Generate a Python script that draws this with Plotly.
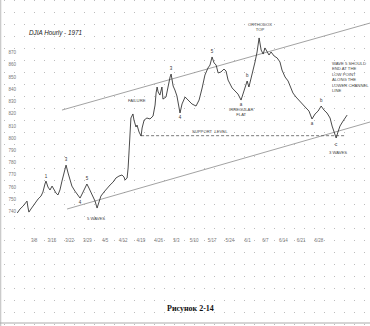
import plotly.graph_objects as go

# ---------------- data ----------------
day = [-6.6, -5.5, -4.3, -3.5, -2.75, -2.4, -2.0, -1.2, -0.4, 0.8, 1.6, 2.75, 3.5, 4.3, 4.7,
       5.5, 6.3, 7.1, 7.9, 8.65, 9.4, 10.2, 11.0, 11.8, 12.6, 13.4, 14.2, 14.9, 16.1, 17.3,
       18.1, 18.9, 20.1, 20.8, 21.6, 22.8, 24.0, 24.8, 25.6, 26.3, 27.5, 28.7, 29.9, 31.1,
       32.2, 33.4, 34.6, 35.4, 35.8, 36.6, 37.0, 37.4, 37.75, 38.1, 38.9, 39.3, 40.1, 40.5,
       41.3, 42.1, 42.5, 43.3, 44.4, 45.6, 46.8, 47.6, 48.0, 48.4, 48.8, 49.5, 50.3, 50.7,
       51.9, 52.7, 53.5, 53.9, 54.7, 55.4, 56.2, 57.4, 58.2, 59.4, 60.6, 62.1, 63.7, 64.9,
       66.1, 67.2, 68.4, 69.2, 70.0, 70.8, 71.6, 72.4, 73.5, 74.7, 75.5, 76.3, 77.9, 79.0,
       80.2, 81.4, 82.2, 83.0, 83.8, 84.5, 85.3, 86.1, 86.9, 87.7, 88.5, 89.3, 90.1, 90.8,
       91.6, 92.4, 93.2, 94.4, 95.6, 96.7, 97.5, 98.7, 99.9, 101.1, 101.8, 103.0, 104.2,
       105.4, 106.6, 108.1, 109.3, 110.5, 111.7, 112.9, 114.0, 115.2, 116.4, 117.2, 118.0,
       118.8, 119.5, 120.3, 121.5, 123.1]
djia = [738.6, 741.9, 744.3, 746.8, 748.4, 743.5, 739.4, 741.9, 744.3, 747.6, 750.1, 752.5,
        755.8, 762.4, 764.8, 759.9, 757.5, 760.7, 757.5, 755.0, 753.4, 757.5, 764.8, 772.2,
        777.9, 771.4, 764.8, 760.7, 756.6, 753.4, 750.9, 754.2, 759.1, 762.4, 759.1, 754.2,
        748.4, 742.7, 748.4, 752.5, 755.8, 759.1, 761.6, 764.0, 767.3, 768.9, 769.8, 768.1,
        765.7, 767.3, 775.5, 790.2, 806.6, 816.5, 819.8, 814.8, 809.1, 810.7, 805.0, 801.7,
        808.3, 814.8, 816.5, 815.7, 818.1, 827.1, 837.0, 841.9, 837.8, 835.3, 841.9, 832.0,
        833.7, 842.7, 850.1, 852.5, 842.7, 839.4, 834.5, 820.6, 828.0, 833.7, 831.2, 828.0,
        826.3, 831.2, 841.1, 851.7, 857.5, 859.9, 866.5, 861.6, 859.9, 853.4, 854.2, 856.6,
        855.0, 847.6, 841.1, 838.6, 836.1, 831.2, 837.0, 842.7, 846.8, 841.9, 848.4, 855.8,
        862.4, 870.6, 882.1, 872.2, 868.9, 873.9, 871.4, 868.1, 870.6, 867.3, 865.7, 862.4,
        855.8, 850.1, 846.8, 841.1, 837.0, 833.7, 831.2, 828.8, 825.5, 822.2, 815.7, 819.8,
        822.2, 826.3, 823.0, 820.6, 816.5, 809.9, 804.2, 800.1, 805.0, 809.9, 814.0, 818.9]

upper_x = [11.0, 132.1]
upper_y = [823.0, 894.3]
lower_x = [13.0, 132.1]
lower_y = [741.9, 813.2]
level_x = [42.1, 122.3]
level_y = [802.0, 802.0]

tick_days = [0, 7, 14, 21, 28, 35, 42, 49, 56, 63, 70, 77, 84, 91, 98, 105, 112]
tick_dates = ["3/8", "3/15", "3/22", "3/29", "4/5", "4/12", "4/19", "4/26", "5/3", "5/10",
              "5/17", "5/24", "6/1", "6/7", "6/14", "6/21", "6/28"]
y_ticks = [870, 860, 850, 840, 830, 820, 810, 800, 790, 780, 770, 760, 750, 740]

wave_lbl = ["1", "3", "4", "5", "3", "4", "5", "a", "b", "a", "b", "c"]
wave_x = [4.7, 12.6, 18.1, 20.8, 53.9, 57.4, 70.0, 81.4, 83.8, 109.3, 112.9, 118.8]
wave_y = [768.1, 782.0, 746.8, 766.5, 856.6, 816.5, 870.6, 827.1, 850.9, 811.6, 830.4, 794.3]

W, H = 370, 326
fig = go.Figure()

# background dot grid subplot (x / y)
fig.add_trace(go.Scatter(x=[None], y=[None], xaxis="x", yaxis="y", showlegend=False))

# chart subplot (x2 / y2)
fig.add_trace(go.Scatter(x=upper_x, y=upper_y, mode="lines", xaxis="x2", yaxis="y2",
                         line=dict(color="#8a8a8a", width=0.8), showlegend=False))
fig.add_trace(go.Scatter(x=lower_x, y=lower_y, mode="lines", xaxis="x2", yaxis="y2",
                         line=dict(color="#8a8a8a", width=0.8), showlegend=False))
fig.add_trace(go.Scatter(x=level_x, y=level_y, mode="lines", xaxis="x2", yaxis="y2",
                         line=dict(color="#555", width=0.8, dash="3px,2px"), showlegend=False))
fig.add_trace(go.Scatter(x=day, y=djia, mode="lines", xaxis="x2", yaxis="y2",
                         line=dict(color="#2a2a2a", width=0.85), showlegend=False))
fig.add_trace(go.Scatter(x=wave_x, y=wave_y, mode="text", text=wave_lbl, xaxis="x2", yaxis="y2",
                         textfont=dict(family="Liberation Sans", size=4.5, color="#333"),
                         showlegend=False))

small = dict(family="Liberation Sans", size=4.2, color="#444")
ann = [
    dict(x=40.5, y=831.2, text="FAILURE", xref="x2", yref="y2", showarrow=False, font=small),
    dict(x=88.9, y=891.1, text="ORTHODOX<br>TOP", xref="x2", yref="y2", showarrow=False,
         font=small),
    dict(x=81.4, y=821.4, text="IRREGULAR<br>FLAT", xref="x2", yref="y2", showarrow=False,
         font=small),
    dict(x=69.2, y=805.8, text="SUPPORT  LEVEL", xref="x2", yref="y2", showarrow=False,
         font=small),
    dict(x=116.2, y=850.1, text="WAVE 5 SHOULD<br>END AT THE<br>LOW POINT<br>ALONG THE<br>"
         "LOWER CHANNEL<br>LINE", xref="x2", yref="y2", showarrow=False, xanchor="left",
         align="left", font=dict(family="Liberation Sans", size=4.2, color="#444")),
    dict(x=24.4, y=734.5, text="5 WAVES", xref="x2", yref="y2", showarrow=False, font=small),
    dict(x=119.5, y=788.6, text="3 WAVES", xref="x2", yref="y2", showarrow=False, font=small),
    dict(x=27 / W, y=1 - 27 / H, text="<i>DJIA Hourly - 1971</i>", xref="paper",
         yref="paper", showarrow=False, xanchor="left",
         font=dict(family="Liberation Sans", size=6.3, color="#222")),
    dict(x=190 / W, y=1 - 315 / H, text="<b>Рисунок 2-14</b>", xref="paper", yref="paper",
         showarrow=False, font=dict(family="Liberation Serif", size=8, color="#111")),
]

x0 = 17 / W
tickf = dict(family="Liberation Sans", size=4.5, color="#777")
fig.update_layout(
    width=W, height=H, margin=dict(l=0, r=0, t=0, b=0),
    paper_bgcolor="white", plot_bgcolor="rgba(0,0,0,0)",
    xaxis=dict(domain=[0, 1], range=[0, W], dtick=10, tick0=4, showgrid=True,
               gridcolor="#bcbcbc", gridwidth=1, griddash="1px,11px",
               showticklabels=False, zeroline=False, showline=False, anchor="y"),
    yaxis=dict(domain=[0, 1], range=[H, 0], showgrid=False, showticklabels=False,
               zeroline=False, showline=False, anchor="x"),
    xaxis2=dict(domain=[x0, 1], range=[-6.685, 132.1], anchor="y2", tickmode="array",
                tickvals=tick_days, ticktext=tick_dates, showgrid=False, zeroline=False,
                showline=False, ticks="", tickfont=tickf),
    yaxis2=dict(domain=[1 - 236 / H, 1 - 10 / H], range=[719.8, 905.0], anchor="x2",
                tickmode="array", tickvals=y_ticks, ticktext=[str(v) for v in y_ticks],
                showgrid=False, zeroline=False, showline=False, ticks="", tickfont=tickf),
    annotations=ann,
    shapes=[
        dict(type="line", xref="paper", yref="paper", x0=0.002, x1=0.002, y0=0, y1=1,
             line=dict(color="#bbb", width=1)),
        dict(type="line", xref="paper", yref="paper", x0=0, x1=1, y0=1 - 323 / H,
             y1=1 - 323 / H, line=dict(color="#aaa", width=1)),
    ],
)

fig.write_html("out.html")
